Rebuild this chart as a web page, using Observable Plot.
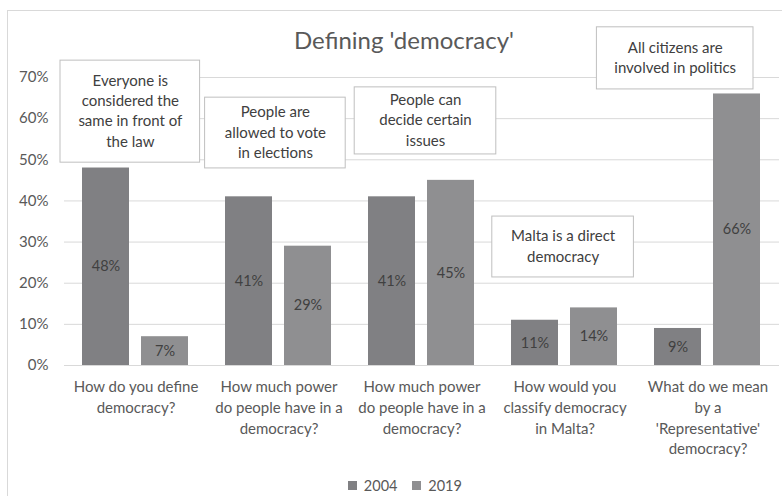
<!DOCTYPE html>
<html>
<head>
<meta charset="utf-8">
<script src="https://cdn.jsdelivr.net/npm/d3@7"></script>
<script src="https://cdn.jsdelivr.net/npm/@observablehq/plot@0.6"></script>
<style>
  body { margin: 0; background: #fff; }
  #chart { position: relative; width: 782px; height: 496px; overflow: hidden; font-family: Lato, sans-serif; background: #fff; }
  #frame { position: absolute; left: 7px; top: 10px; width: 800px; height: 520px; border: 1px solid #d9d9d9; box-sizing: border-box; }
  #plot { position: absolute; left: 0; top: 0; }
  #title { position: absolute; left: 0; top: 26px; width: 808px; text-align: center; font-size: 24px; line-height: 28px; color: #595959; }
  #legend { position: absolute; left: 7px; top: 469px; width: 810px; }
  #legend > div { justify-content: center !important; margin: 0 !important; }
</style>
</head>
<body>
<div id="chart">
  <div id="frame"></div>
  <div id="title">Defining 'democracy'</div>
  <div id="plot"></div>
  <div id="legend"></div>
</div>
<script>
// ---- data ----
const categories = ["q1", "q2", "q3", "q4", "q5"];
const questionLabels = [
  "How do you define\ndemocracy?",
  "How much power\ndo people have in a\ndemocracy?",
  "How much power\ndo people have in a\ndemocracy?",
  "How would you\nclassify democracy\nin Malta?",
  "What do we mean\nby a\n'Representative'\ndemocracy?"
];
const years = ["2004", "2019"];
const values2004 = [48, 41, 41, 11, 9];
const values2019 = [7, 29, 45, 14, 66];
const yTicks = [0, 10, 20, 30, 40, 50, 60, 70];
const annotationTexts = [
  "Everyone is\nconsidered the\nsame in front of\nthe law",
  "People are\nallowed to vote\nin elections",
  "People can\ndecide certain\nissues",
  "Malta is a direct\ndemocracy",
  "All citizens are\ninvolved in politics"
];
// annotation box extents, in percent units of the y axis
const annotationTop = [74.1, 65.1, 67.6, 36.2, 82.2];
const annotationBottom = [49.3, 47.9, 51.3, 21.4, 67.1];

// ---- layout / style (not data) ----
const barColors = ["#808083", "#8f8f91"];
const boxInsets = [[-4, 7.4], [-2.4, 4.8], [4.2, -2.8], [-1.2, 2.6], [-39.6, 26]];

const rows = categories.flatMap((c, i) => [
  {cat: c, year: years[0], value: values2004[i]},
  {cat: c, year: years[1], value: values2019[i]}
]);
const notes = categories.map((c, i) => ({
  cat: c, text: annotationTexts[i], top: annotationTop[i], bottom: annotationBottom[i]
}));

const boxMarks = notes.map((n, i) => Plot.rect([n], {
  fx: "cat", y1: "bottom", y2: "top",
  fill: "white", stroke: "#bfbfbf", strokeWidth: 1,
  insetLeft: boxInsets[i][0], insetRight: boxInsets[i][1]
}));
const noteMarks = notes.map((n, i) => Plot.text([n], {
  fx: "cat", y: d => (d.top + d.bottom) / 2, text: "text",
  dx: (boxInsets[i][0] - boxInsets[i][1]) / 2, dy: -2,
  fontSize: 15, lineHeight: 1.36, fill: "#404040"
}));

const chart = Plot.plot({
  width: 782,
  height: 496,
  marginLeft: 63,
  marginRight: 2,
  marginTop: 77,
  marginBottom: 131,
  style: {fontFamily: "Lato, sans-serif", fontSize: "14px", color: "#595959", background: "transparent", overflow: "visible"},
  fx: {domain: categories, padding: 0, label: null},
  x: {domain: years, paddingInner: 0.2, paddingOuter: 0.295, axis: null},
  y: {domain: [0, 70], label: null},
  color: {domain: years, range: barColors},
  marks: [
    Plot.gridY(yTicks, {stroke: "#d9d9d9", strokeOpacity: 1}),
    Plot.barY(rows, {fx: "cat", x: "year", y: "value", fill: "year"}),
    Plot.text(rows, {fx: "cat", x: "year", y: d => d.value / 2, text: d => d.value + "%", fill: "#404040", fontSize: 14.5}),
    ...boxMarks,
    ...noteMarks,
    Plot.axisY(yTicks, {tickFormat: d => d + "%", tickSize: 0, tickPadding: 16, fontSize: 15, fill: "#595959", label: null}),
    Plot.axisFx({anchor: "bottom", tickSize: 0, tickPadding: 12, fontSize: 15, lineHeight: 1.38, fill: "#595959",
      tickFormat: d => questionLabels[categories.indexOf(d)], label: null})
  ]
});
document.getElementById("plot").appendChild(chart);

const legend = Plot.legend({
  color: {domain: years, range: barColors},
  swatchSize: 9,
  style: {fontFamily: "Lato, sans-serif", fontSize: "14.5px", color: "#595959"}
});
document.getElementById("legend").appendChild(legend);
</script>
</body>
</html>
